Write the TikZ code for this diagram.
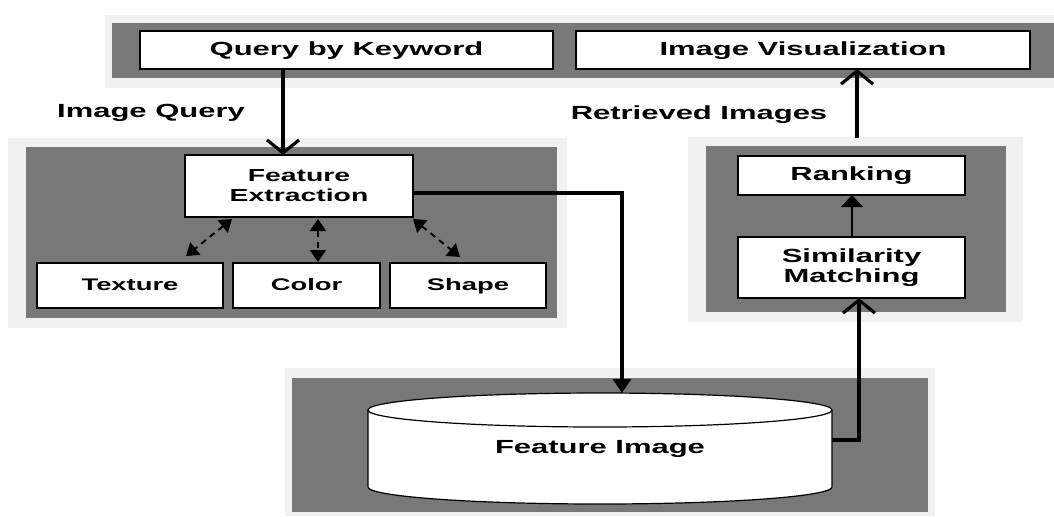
\documentclass[tikz,border=0pt]{standalone}
\usepackage{fontspec}
\setmainfont{Liberation Sans}
\usepackage{graphicx}
\usetikzlibrary{arrows.meta,fit}
% wide lettering used throughout the figure
\newcommand\wide[1]{\scalebox{1.63}[1]{#1}}
\definecolor{panelgray}{HTML}{787878}
\definecolor{halogray}{HTML}{F1F1F1}
\begin{document}
\begin{tikzpicture}[x=0.5pt,y=-0.5pt,
  box/.style={draw=black, fill=white, line width=0.8pt, inner sep=0pt},
  txt/.style={inner sep=0pt, align=center, font=\bfseries\fontsize{9.5}{10}\selectfont},
  oneline/.style={text height=0.72em, text depth=0.2em},
  smalltxt/.style={txt, oneline, font=\bfseries\fontsize{8.4}{10}\selectfont},
  flow/.style={line width=1.6pt},
  barb/.style={flow, -{Straight Barb[length=6.5pt,width=16pt]}},
  solidtip/.style={flow, -{Triangle[length=7pt,width=9pt]}},
  minortip/.style={line width=1.1pt, -{Triangle[length=6pt,width=11pt]}},
  dashlink/.style={line width=1pt, dash pattern=on 3pt off 2.5pt,
    {Triangle[length=6pt,width=8pt]}-{Triangle[length=6pt,width=8pt]}}
]
\useasboundingbox (0,0) rectangle (1054,516);
\fill[white] (0,0) rectangle (1054,516);

% panel backgrounds
\fill[halogray] (105,15) rectangle (1054,88);
\fill[panelgray] (112,23) rectangle (1054,78);
\fill[halogray] (8,138) rectangle (567,328);
\fill[panelgray] (26,147) rectangle (557,318);
\fill[halogray] (688,137) rectangle (1023,322);
\fill[panelgray] (706,146) rectangle (1006,312);
\fill[halogray] (285,368) rectangle (935,516);
\fill[panelgray] (292,378) rectangle (928,512);

% top row
\node[box, fit={(140,31) (553,69)}] (query) {};
\node[txt, oneline] (query-t) at (query.center) {\wide{Query by Keyword}};
\node[box, fit={(576,31) (1030,69)}] (vis) {};
\node[txt, oneline] (vis-t) at (vis.center) {\wide{Image Visualization}};

% feature extraction panel
\node[box, fit={(185,155) (413,217)}] (fe) {};
\node[txt, font=\bfseries\fontsize{8.7}{10}\selectfont] (fe-t) at (fe.center) {\wide{Feature}\\\wide{Extraction}};
\node[box, fit={(37,263) (223,308)}] (texture) {};
\node[smalltxt] (texture-t) at (texture.center) {\wide{Texture}};
\node[box, fit={(233,263) (380,308)}] (color) {};
\node[smalltxt] (color-t) at (color.center) {\wide{Color}};
\node[box, fit={(390,263) (546,308)}] (shape) {};
\node[smalltxt] (shape-t) at (shape.center) {\wide{Shape}};

% ranking panel
\node[box, fit={(738,156) (965,195)}] (rank) {};
\node[txt, oneline] (rank-t) at (rank.center) {\wide{Ranking}};
\node[box, fit={(738,237) (965,298)}] (sim) {};
\node[txt] (sim-t) at (sim.center) {\wide{Similarity}\\\wide{Matching}};

% side labels
\node[txt, oneline] (iq) at (151,112) {\wide{Image Query}};
\node[txt, oneline] (ri) at (699,114) {\wide{Retrieved Images}};

% feature database
\node[inner sep=0pt, fit={(368,393) (832,504)}] (db) {};
\draw[fill=white, line width=0.6pt] (368,410) -- (368,487)
  arc[start angle=180, end angle=0, x radius=232, y radius=17] -- (832,410);
\draw[fill=white, line width=0.6pt] (600,410) ellipse [x radius=232, y radius=17];
\node[txt, oneline] (db-t) at (600,448) {\wide{Feature Image}};

% connection points
\coordinate (qout) at (283,69);
\coordinate (fein) at (283,155);
\coordinate (feout) at (413,193);
\coordinate (dbin) at (622,393);
\coordinate (dbout) at (832,440);
\coordinate (simin) at (859,298);
\coordinate (simout) at (852,237);
\coordinate (rankin) at (852,195);
\coordinate (panelout) at (857,138);
\coordinate (visin) at (857,69);
\coordinate (fe-a) at (232,219);
\coordinate (tex-a) at (186,256);
\coordinate (fe-b) at (318,219);
\coordinate (col-b) at (318,262);
\coordinate (fe-c) at (413,219);
\coordinate (sha-c) at (460,257);

% flow connectors
\draw[barb] (qout) -- (fein);
\draw[solidtip] (feout) -| (dbin);
\draw[barb] (dbout) -| (simin);
\draw[minortip] (simout) -- (rankin);
\draw[barb] (panelout) -- (visin);

% feature links
\draw[dashlink] (fe-a) -- (tex-a);
\draw[dashlink] (fe-b) -- (col-b);
\draw[dashlink] (fe-c) -- (sha-c);
\end{tikzpicture}
\end{document}
